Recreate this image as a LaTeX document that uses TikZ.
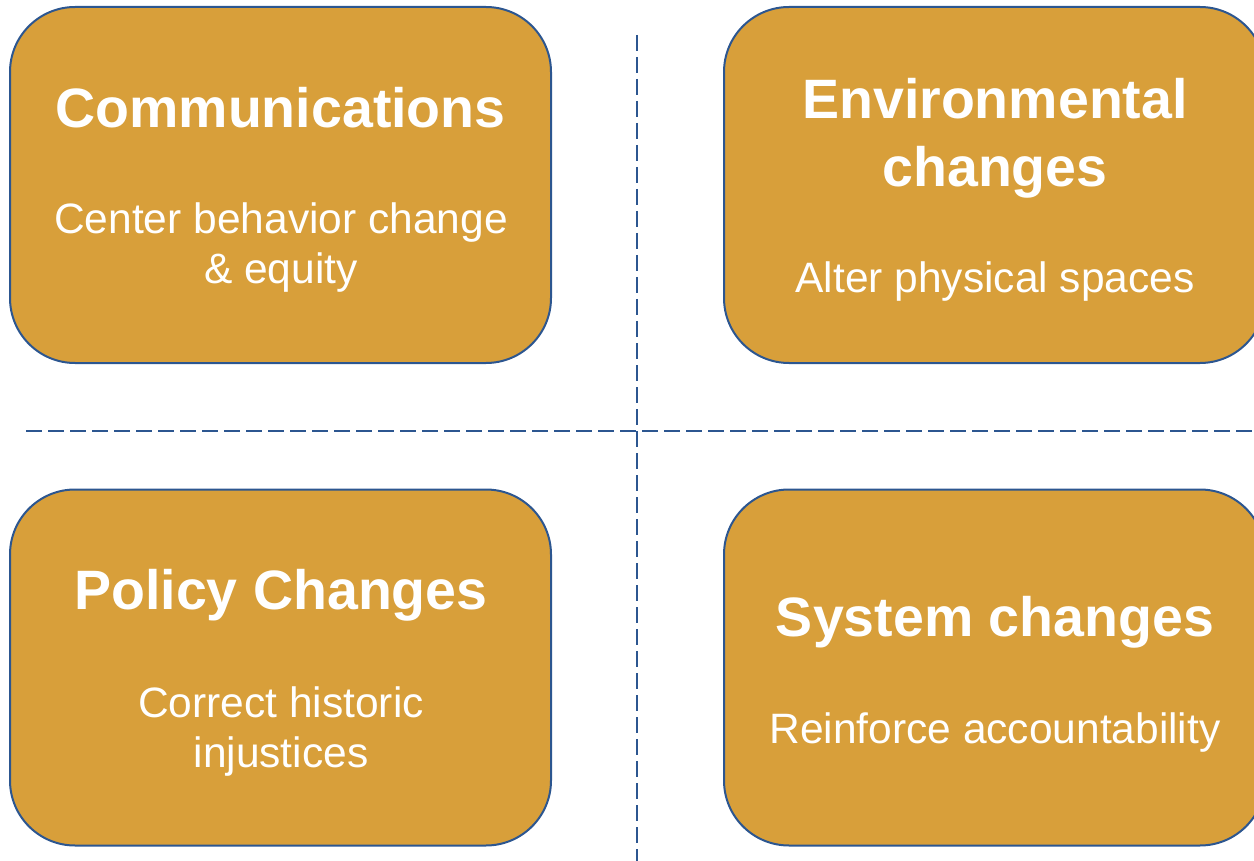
\documentclass[tikz,border=0pt]{standalone}
\usepackage{fontspec}
\setmainfont{Liberation Sans}
\definecolor{boxfill}{HTML}{D89F3A}
\definecolor{boxline}{HTML}{2C5690}
\begin{document}
\begin{tikzpicture}[x=1pt,y=-1pt,
  box/.style={draw=boxline, line width=2pt, fill=boxfill, rounded corners=65pt,
    minimum width=541pt, minimum height=356pt, inner sep=0pt, outer sep=0pt},
  ttl/.style={text=white, anchor=base, inner sep=0pt, font=\fontsize{55.5}{66}\selectfont\bfseries},
  sub/.style={text=white, anchor=base, inner sep=0pt, font=\fontsize{42.5}{50}\selectfont},
  divider/.style={draw=boxline, line width=1.9pt, dash pattern=on 16pt off 6pt}]
\useasboundingbox (0,0) rectangle (1254,861);
\clip (0,0) rectangle (1254,861);
% dividers
\coordinate (vtop) at (637,35);
\coordinate (vbot) at (637,861);
\coordinate (hl) at (26,431);
\coordinate (hr) at (1254,431);
\draw[divider] (vtop) -- (vbot);
\draw[divider] (hl) -- (hr);
% boxes
\node[box] (comm) at (280.5,185) {};
\node[box] (env) at (994.5,185) {};
\node[box] (pol) at (280.5,667.5) {};
\node[box] (sys) at (994.5,667.5) {};
% texts
\node[ttl] (commT) at (280.5,128) {Communications};
\node[sub] (commS1) at (281,234) {Center behavior change};
\node[sub] (commS2) at (281,284) {\& equity};
\node[ttl] (envT1) at (995,119) {Environmental};
\node[ttl] (envT2) at (995,187) {changes};
\node[sub] (envS) at (995,293) {Alter physical spaces};
\node[ttl] (polT) at (281,609) {Policy Changes};
\node[sub] (polS1) at (281,717) {Correct historic};
\node[sub] (polS2) at (281,767) {injustices};
\node[ttl] (sysT) at (995,636) {System changes};
\node[sub] (sysS) at (995,743) {Reinforce accountability};
\end{tikzpicture}
\end{document}
